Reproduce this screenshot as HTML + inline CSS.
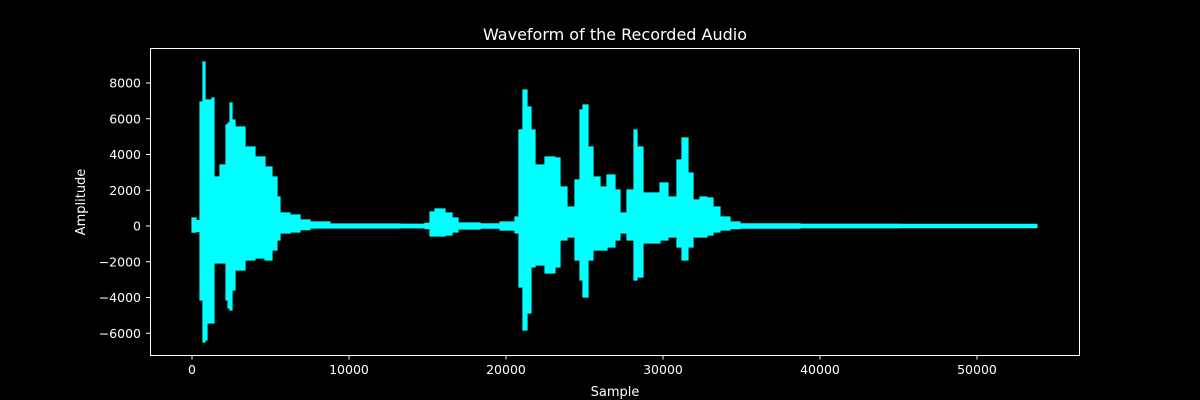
<!DOCTYPE html>
<html><head><meta charset="utf-8"><style>
html,body{margin:0;padding:0;background:#000;}
svg{display:block;font-family:"DejaVu Sans","Liberation Sans",sans-serif;}
</style></head><body>
<svg id="chart" width="1200" height="400" xmlns="http://www.w3.org/2000/svg">
<rect width="1200" height="400" fill="#000"/>
<text x="615" y="40" fill="#fff" font-size="16" text-anchor="middle">Waveform of the Recorded Audio</text>
<g id="plot"></g>
<rect x="150.5" y="48.5" width="929" height="307" fill="none" stroke="#fff" stroke-width="1"/>
<g id="xticks"></g><g id="yticks"></g>
<text x="615" y="396" fill="#fff" font-size="13" text-anchor="middle">Sample</text>
<text x="85" y="202" fill="#fff" font-size="13" text-anchor="middle" transform="rotate(-90 85 202)">Amplitude</text>
</svg>
<script>
const samples=[0,255,510,700,828,955,1274,1401,1783,2165,2293,2420,2548,2739,3376,4013,4650,5096,5414,5605,6242,6879,7516,8790,13248,14840,15158,15477,16114,16560,16942,18343,19617,20572,20827,21082,21336,21591,21846,22483,23119,23438,23884,24393,24712,24903,25221,25540,25986,26431,26941,27259,27705,28151,28342,28724,29170,29807,30316,30890,31208,31591,31909,32355,32800,33183,33628,34265,34902,38723,45092,53818];
const upper=[450,300,6937,9174,7048,7048,7160,2741,3412,5650,5762,6881,5930,5538,4419,3860,3300,2741,1622,727,615,336,224,112,100,150,783,951,727,448,168,120,224,503,5370,7608,6657,5370,3412,3860,3804,2182,1063,2573,6489,6769,4419,2741,2182,2853,2014,727,2014,5370,4419,1846,1846,2405,1622,3692,4923,2965,1454,1622,1566,1063,503,224,120,100,90,90];
const lower=[-340,-300,-4140,-6489,-6377,-5426,-5426,-2070,-2070,-4140,-4587,-4699,-3580,-2461,-1902,-1790,-1902,-1343,-783,-392,-336,-200,-112,-112,-100,-150,-560,-560,-503,-336,-168,-120,-224,-392,-3412,-5818,-4867,-2294,-2182,-2629,-2294,-783,-615,-1902,-3021,-3972,-1902,-1343,-1343,-1175,-783,-392,-783,-3021,-2853,-951,-951,-783,-615,-1175,-1902,-1175,-615,-615,-503,-336,-224,-150,-120,-100,-90,-90];
const xTicks=[0,10000,20000,30000,40000,50000];
const yTicks=[-6000,-4000,-2000,0,2000,4000,6000,8000];
const NS='http://www.w3.org/2000/svg';
const xs=v=>192+v*0.0157;
const ys=v=>226-v*0.017875;
const plot=document.getElementById('plot');
const n=samples.length;
let pts=[];
for(let i=0;i<n;i++){
  const x0=xs(samples[i]), x1=i<n-1?xs(samples[i+1]):x0;
  pts.push(x0.toFixed(1)+','+ys(upper[i]).toFixed(1));
  pts.push(x1.toFixed(1)+','+ys(upper[i]).toFixed(1));
}
for(let i=n-1;i>=0;i--){
  const x0=xs(samples[i]), x1=i<n-1?xs(samples[i+1]):x0;
  pts.push(x1.toFixed(1)+','+ys(lower[i]).toFixed(1));
  pts.push(x0.toFixed(1)+','+ys(lower[i]).toFixed(1));
}
const poly=document.createElementNS(NS,'polygon');
poly.setAttribute('points',pts.join(' '));
poly.setAttribute('fill','#00ffff');
poly.setAttribute('stroke','#00ffff');
poly.setAttribute('stroke-width','1.2');


plot.appendChild(poly);
const xg=document.getElementById('xticks');
xTicks.forEach(t=>{
  const x=xs(t);
  const l=document.createElementNS(NS,'line');
  l.setAttribute('x1',x);l.setAttribute('x2',x);l.setAttribute('y1',355.5);l.setAttribute('y2',359.5);l.setAttribute('stroke','#fff');
  
  
  xg.appendChild(l);
  const tx=document.createElementNS(NS,'text');
  tx.setAttribute('x',x);tx.setAttribute('y',374);tx.setAttribute('fill','#fff');tx.setAttribute('font-size','12.5');tx.setAttribute('text-anchor','middle');
  tx.textContent=String(t);
  
  
  xg.appendChild(tx);
});
const yg=document.getElementById('yticks');
yTicks.forEach(t=>{
  const y=ys(t);
  const l=document.createElementNS(NS,'line');
  l.setAttribute('x1',146);l.setAttribute('x2',150.5);l.setAttribute('y1',y);l.setAttribute('y2',y);l.setAttribute('stroke','#fff');
  
  
  yg.appendChild(l);
  const tx=document.createElementNS(NS,'text');
  tx.setAttribute('x',141);tx.setAttribute('y',y+4.5);tx.setAttribute('fill','#fff');tx.setAttribute('font-size','12.5');tx.setAttribute('text-anchor','end');
  tx.textContent=(t<0?'\u2212'+Math.abs(t):String(t));
  
  
  yg.appendChild(tx);
});
</script>
</body></html>
